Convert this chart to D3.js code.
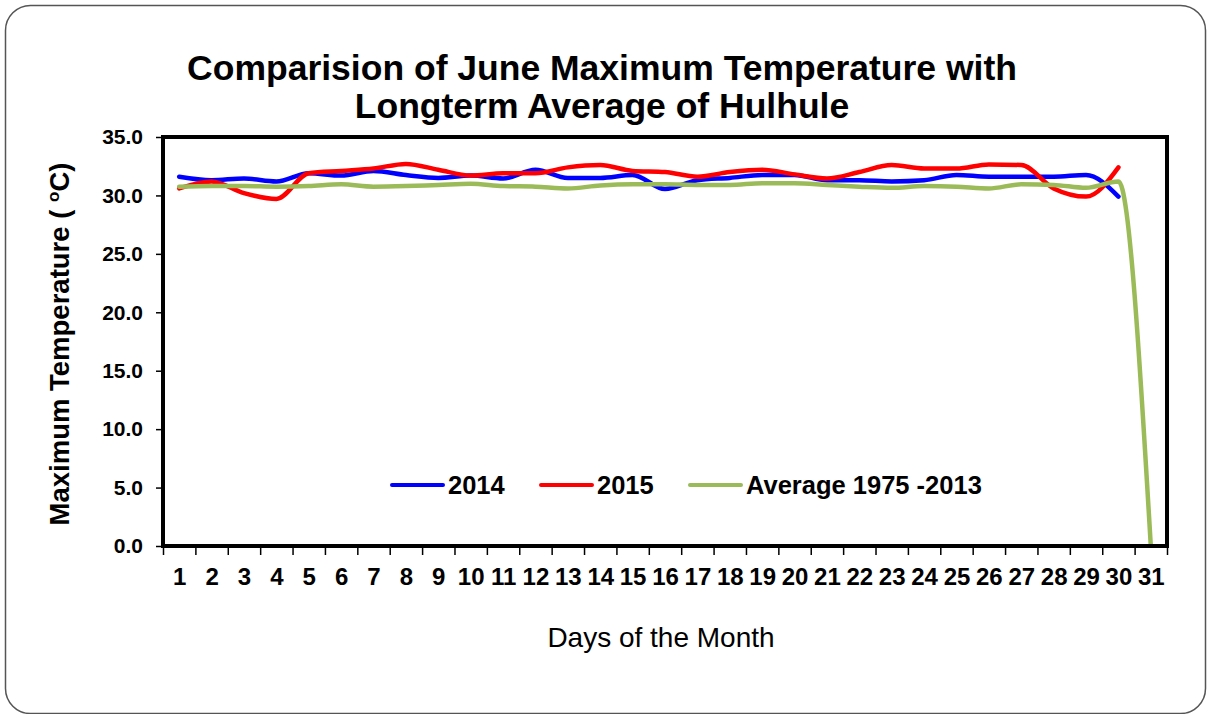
<!DOCTYPE html>
<html>
<head>
<meta charset="utf-8">
<script src="https://cdn.jsdelivr.net/npm/d3@7"></script>
<style>
  body { margin: 0; background: #fff; }
  text { font-family: "Liberation Sans", Arial, sans-serif; fill: #000; }
</style>
</head>
<body>
<div id="chart"></div>
<script>
// days of june
const days = d3.range(1, 32);

// series values
const temp2014 = [31.6, 31.3, 31.45, 31.2, 31.9, 31.7, 32.1, 31.75, 31.5, 31.7,
  31.45, 32.2, 31.5, 31.5, 31.75, 30.55, 31.3, 31.5, 31.75, 31.75,
  31.3, 31.3, 31.2, 31.3, 31.75, 31.6, 31.6, 31.6, 31.75, 29.9];
const temp2015 = [30.6, 31.2, 30.2, 29.7, 31.9, 32.1, 32.3, 32.7, 32.2, 31.7,
  31.9, 31.9, 32.4, 32.6, 32.1, 32.0, 31.6, 32.0, 32.2, 31.8,
  31.45, 32.0, 32.6, 32.3, 32.3, 32.65, 32.6, 30.6, 29.9, 32.4];
const tempAvg = [30.75, 30.8, 30.8, 30.75, 30.8, 30.95, 30.75, 30.8, 30.9, 31.0,
  30.8, 30.75, 30.6, 30.85, 30.95, 30.95, 30.9, 30.9, 31.05, 31.05,
  30.9, 30.75, 30.65, 30.8, 30.75, 30.6, 30.95, 30.9, 30.65, 31.2, 0];

const yTicks = [0, 5, 10, 15, 20, 25, 30, 35];
const seriesNames = ["2014", "2015", "Average 1975 -2013"];
const seriesColors = ["#0000ff", "#ff0000", "#9bbb59"];

const width = 1208, height = 714;
const plot = { left: 163, top: 137, right: 1167, bottom: 546 };

const svg = d3.select("#chart").append("svg")
  .attr("width", width)
  .attr("height", height);

//outer rounded frame
svg.append("rect")
  .attr("x", 5.5).attr("y", 5.5)
  .attr("width", 1200).attr("height", 708)
  .attr("rx", 25)
  .attr("fill", "#fff")
  .attr("stroke", "#555")
  .attr("stroke-width", 1.5);

//title
const title = svg.append("text")
  .attr("text-anchor", "middle")
  .style("font-weight", "bold")
  .style("font-size", "35.5px");
title.append("tspan").attr("x", 602).attr("y", 80).text("Comparision of June Maximum Temperature with");
title.append("tspan").attr("x", 602).attr("y", 118).text("Longterm Average of Hulhule");

//scales
const x = d3.scaleLinear().domain([0.5, 31.5]).range([plot.left, plot.right]);
const y = d3.scaleLinear().domain([0, 35]).range([plot.bottom, plot.top]);

//y axis
const yAxis = svg.append("g")
  .attr("transform", `translate(${plot.left}, 0)`)
  .call(d3.axisLeft(y).tickValues(yTicks).tickSize(7).tickPadding(13).tickFormat(d3.format(".1f")));
yAxis.select(".domain").remove();
yAxis.selectAll("line").attr("stroke", "#000").attr("stroke-width", 1.5);
yAxis.selectAll("text")
  .style("font-size", "21px")
  .style("font-weight", "bold")
  .attr("font-family", null);

//x axis tick marks between days
const xTickAxis = svg.append("g")
  .attr("transform", `translate(0, ${plot.bottom})`)
  .call(d3.axisBottom(x).tickValues(d3.range(0.5, 32, 1)).tickSize(9).tickFormat(""));
xTickAxis.select(".domain").remove();
xTickAxis.selectAll("line").attr("stroke", "#000").attr("stroke-width", 1.5);

//x axis day labels
const xAxis = svg.append("g")
  .attr("transform", `translate(0, ${plot.bottom})`)
  .call(d3.axisBottom(x).tickValues(days).tickSize(0).tickPadding(22).tickFormat(d3.format("d")));
xAxis.select(".domain").remove();
xAxis.selectAll("text")
  .style("font-size", "24px")
  .style("font-weight", "bold")
  .attr("font-family", null);

//clip lines to the plot area
svg.append("clipPath").attr("id", "plotClip")
  .append("rect")
  .attr("x", plot.left).attr("y", plot.top)
  .attr("width", plot.right - plot.left).attr("height", plot.bottom - plot.top);

const lineFunc = d3.line()
  .x((d, i) => x(days[i]))
  .y((d) => y(d))
  .curve(d3.curveMonotoneX);

const allSeries = [temp2014, temp2015, tempAvg];
svg.append("g")
  .attr("clip-path", "url(#plotClip)")
  .selectAll(".line")
  .data(allSeries)
  .enter()
  .append("path")
  .attr("class", "line")
  .attr("d", (d) => lineFunc(d))
  .attr("fill", "none")
  .attr("stroke", (d, i) => seriesColors[i])
  .attr("stroke-width", 4.5)
  .attr("stroke-linejoin", "round")
  .attr("stroke-linecap", "round");

//plot frame
svg.append("rect")
  .attr("x", plot.left).attr("y", plot.top)
  .attr("width", plot.right - plot.left).attr("height", plot.bottom - plot.top)
  .attr("fill", "none")
  .attr("stroke", "#000")
  .attr("stroke-width", 4);

//legend
const legendX = [392, 541, 690];
const legend = svg.append("g").selectAll("g")
  .data(seriesNames)
  .enter()
  .append("g")
  .attr("transform", (d, i) => `translate(${legendX[i]}, 485)`);
legend.append("line")
  .attr("x1", 0).attr("x2", 51)
  .attr("stroke", (d, i) => seriesColors[i])
  .attr("stroke-width", 4)
  .attr("stroke-linecap", "round");
legend.append("text")
  .attr("x", 56).attr("y", 9)
  .style("font-size", "25.5px")
  .style("font-weight", "bold")
  .text((d) => d);

//axis titles
const yLabel = svg.append("text")
  .attr("transform", "translate(69, 344) rotate(-90)")
  .attr("text-anchor", "middle")
  .style("font-size", "27.5px")
  .style("font-weight", "bold");
yLabel.append("tspan").text("Maximum Temperature ( ");
yLabel.append("tspan").attr("dy", -10).style("font-size", "17px").text("o");
yLabel.append("tspan").attr("dy", 10).text("C)");

svg.append("text")
  .attr("x", 661).attr("y", 647)
  .attr("text-anchor", "middle")
  .style("font-size", "28px")
  .text("Days of the Month");
</script>
</body>
</html>
